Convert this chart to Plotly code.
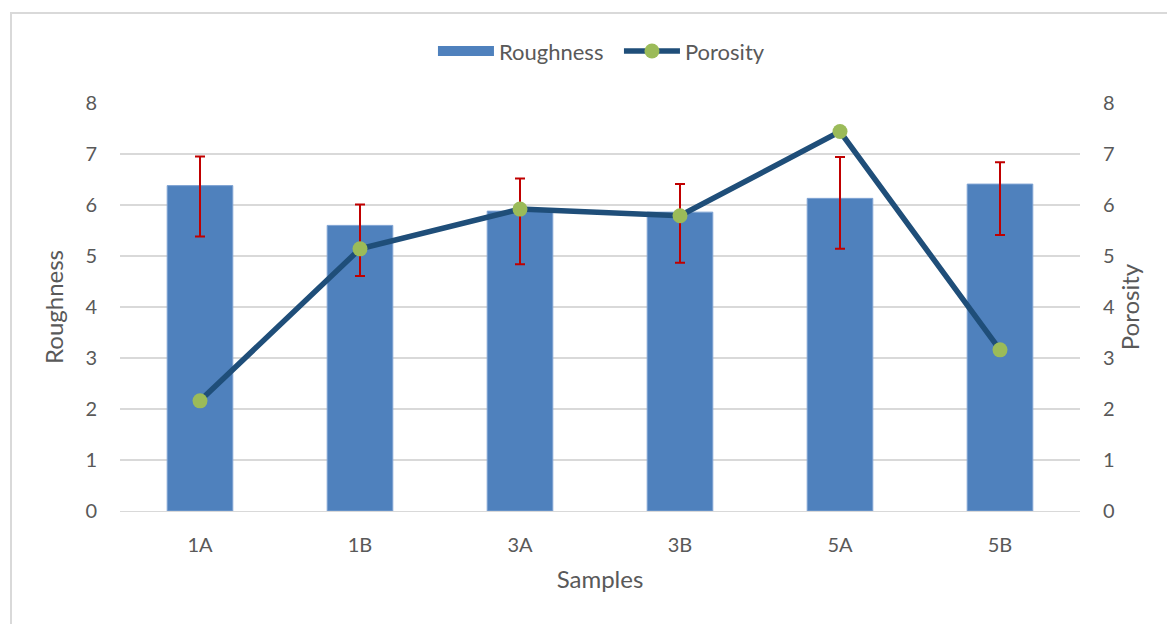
import plotly.graph_objects as go

samples = ["1A", "1B", "3A", "3B", "5A", "5B"]
roughness = [6.38, 5.60, 5.88, 5.86, 6.13, 6.41]
rough_err_plus = [0.57, 0.41, 0.64, 0.55, 0.81, 0.43]
rough_err_minus = [1.00, 0.99, 1.04, 0.99, 0.99, 1.00]
porosity = [2.16, 5.14, 5.92, 5.79, 7.44, 3.16]
ticks = [0, 1, 2, 3, 4, 5, 6, 7, 8]

FONT = "Lato, Open Sans, sans-serif"
TXT = "#595959"
BAR = "#4F81BD"

fig = go.Figure()
fig.add_trace(go.Bar(
    x=samples, y=roughness, name="Roughness", showlegend=False,
    marker=dict(color=BAR, line=dict(color="#7FA3D3", width=1)),
    error_y=dict(type="data", symmetric=False, array=rough_err_plus,
                 arrayminus=rough_err_minus, color="#C00000", thickness=2, width=5),
))
# legend entry for the bars (wide swatch like the original)
fig.add_trace(go.Scatter(
    x=[None], y=[None], name="Roughness", mode="lines",
    line=dict(color=BAR, width=13),
))
fig.add_trace(go.Scatter(
    x=samples, y=porosity, name="Porosity", yaxis="y2",
    mode="lines+markers",
    line=dict(color="#1F4E79", width=5.5),
    marker=dict(color="#9BBB59", size=15),
))

axis_common = dict(range=[0, 8], tickvals=ticks, showline=False, zeroline=False,
                   tickfont=dict(family=FONT, size=20, color=TXT))
# page body adds an 8px offset; margins compensate so the plot sits at x 120-1080, y 103-511
OFF = 8
fig.update_layout(
    width=1175, height=624,
    margin=dict(l=120 - OFF, r=1175 - (120 - OFF) - 960, t=103 - OFF, b=624 - (103 - OFF) - 408),
    paper_bgcolor="white", plot_bgcolor="white",
    font=dict(family=FONT, color=TXT),
    bargap=0.59,
    showlegend=True,
    legend=dict(orientation="h", x=0.326, xanchor="left", y=1.127, yanchor="middle",
                font=dict(family=FONT, size=22, color=TXT),
                itemwidth=56, entrywidth=115,
                bgcolor="rgba(0,0,0,0)", traceorder="normal"),
    xaxis=dict(showgrid=False, showline=True, linecolor="#D9D9D9", linewidth=1,
               tickfont=dict(family=FONT, size=20, color=TXT), ticks="",
               ticklabelstandoff=16,
               title=dict(text="Samples", font=dict(family=FONT, size=24, color=TXT), standoff=16)),
    yaxis=dict(**axis_common, showgrid=True, gridcolor="#D9D9D9", gridwidth=2,
               ticklabelstandoff=22,
               title=dict(text="Roughness", font=dict(family=FONT, size=24, color=TXT), standoff=14)),
    yaxis2=dict(**axis_common, overlaying="y", side="right", showgrid=False,
                ticklabelstandoff=22,
                title=dict(text="Porosity", font=dict(family=FONT, size=24, color=TXT), standoff=0)),
    shapes=[dict(type="rect", xref="paper", yref="paper",
                 x0=(11 - 120) / 960, x1=(1200 - 120) / 960,
                 y0=(511 - 640) / 408, y1=(511 - 13) / 408,
                 line=dict(color="#D9D9D9", width=2), layer="below")],
)

fig.write_html("out.html")
